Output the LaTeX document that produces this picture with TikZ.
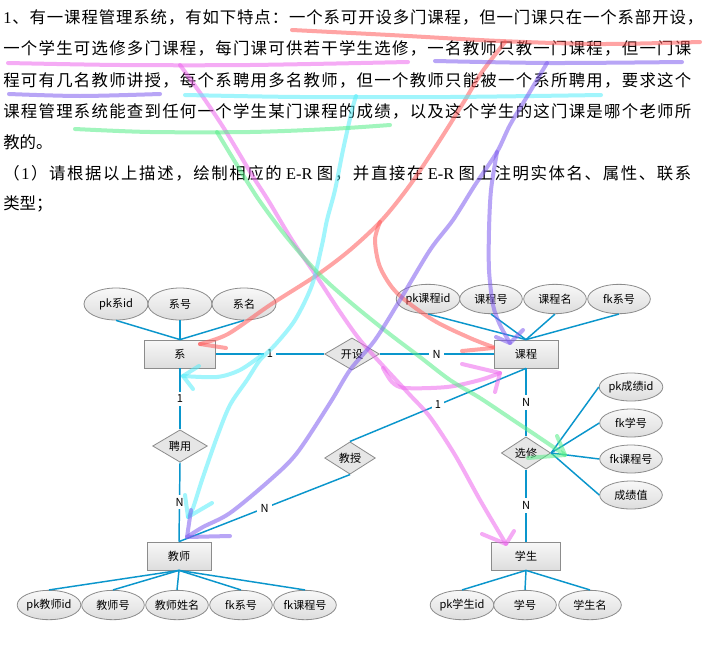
\documentclass[tikz,border=0pt]{standalone}
\usepackage{fontspec}
\setmainfont{Noto Sans CJK SC}
\newfontfamily\serifL{Liberation Serif}
\usetikzlibrary{shapes.geometric}
\definecolor{bord}{HTML}{8C8C8C}
\definecolor{lnk}{HTML}{0A96CC}
\definecolor{shtop}{HTML}{F8F8F8}
\definecolor{shbot}{HTML}{DDDDDD}
\definecolor{relfill}{HTML}{E6E6E6}
\definecolor{hred}{HTML}{FF5A5A}
\definecolor{hmag}{HTML}{EE66EE}
\definecolor{hcyan}{HTML}{55EEFA}
\definecolor{hgreen}{HTML}{55EE88}
\definecolor{hpur}{HTML}{7F5CF0}
\def\spreadA#1{#1\spreadB}
\def\spreadB#1{\ifx\relax#1\else\hfil#1\expandafter\spreadB\fi}
\newcommand\jline[2]{\makebox[#1][s]{\spreadA#2\relax}}
\tikzset{
 ent/.style={rectangle, draw=bord, line width=0.6pt, top color=shtop, bottom color=shbot, minimum height=21pt, inner sep=0pt, font=\fontsize{8.3}{10}\selectfont},
 attr/.style={ellipse, draw=bord, line width=0.6pt, top color=shtop, bottom color=shbot, minimum width=47pt, minimum height=22pt, inner sep=0pt, font=\fontsize{8.3}{10}\selectfont},
 rel/.style={diamond, draw=bord, line width=0.6pt, fill=relfill, inner sep=0pt, font=\fontsize{8.3}{10}\selectfont},
 lk/.style={draw=lnk, line width=1.1pt},
 lab/.style={fill=white, inner sep=2.5pt, font=\fontsize{8.3}{10}\selectfont},
 hl/.style={line width=3pt, line cap=round, line join=round, opacity=0.55},
 para/.style={anchor=base west, inner sep=0pt, font=\fontsize{12.3}{15}\selectfont},
}
\begin{document}
\begin{tikzpicture}[x=0.75pt, y=-0.75pt]
\fill[white] (0,0) rectangle (705,653);
\useasboundingbox (0,0) rectangle (705,653);

% ---------- paragraph ----------
\node[para] (t1) at (3,23) {\jline{525pt}{{{\serifL 1}}、有一课程管理系统，有如下特点：一个系可开设多门课程，但一门课只在一个系部开设，}};
\node[para] (t2) at (3,54) {\jline{516pt}{一个学生可选修多门课程，每门课可供若干学生选修，一名教师只教一门课程，但一门课}};
\node[para] (t3) at (3,86) {\jline{516pt}{程可有几名教师讲授，每个系聘用多名教师，但一个教师只能被一个系所聘用，要求这个}};
\node[para] (t4) at (3,117) {\jline{516pt}{课程管理系统能查到任何一个学生某门课程的成绩，以及这个学生的这门课是哪个老师所}};
\node[para] (t5) at (3,148) {教的。};
\node[para] (t6) at (3,179) {\jline{516pt}{（{{\serifL 1}}）请根据以上描述，绘制相应的{{\serifL \,E-R\,}}图，并直接在{{\serifL \,E-R\,}}图上注明实体名、属性、联系}};
\node[para] (t7) at (3,209) {类型；};

% ---------- entities ----------
\node[ent, minimum width=53pt] (xi) at (180,354) {系};
\node[ent, minimum width=48pt] (kc) at (526,354) {课程};
\node[ent, minimum width=48pt] (js) at (179,556) {教师};
\node[ent, minimum width=52pt] (xs) at (526,556) {学生};

% ---------- relationships ----------
\node[rel, minimum width=41pt, minimum height=24pt] (ks) at (352,354) {开设};
\node[rel, minimum width=41pt, minimum height=24pt] (py) at (180,446) {聘用};
\node[rel, minimum width=38pt, minimum height=23pt] (jsh) at (350,458) {教授};
\node[rel, minimum width=37pt, minimum height=22.5pt] (xx) at (526,453) {选修};

% ---------- attributes ----------
\node[attr, minimum width=48pt, minimum height=24pt] (a1) at (116,304) {pk系id};
\node[attr, minimum width=48pt, minimum height=24pt] (a2) at (180,304) {系号};
\node[attr, minimum width=48pt, minimum height=24pt] (a3) at (244,304) {系名};

\node[attr] (b1) at (428,299) {pk课程id};
\node[attr] (b2) at (491,299) {课程号};
\node[attr] (b3) at (555,299) {课程名};
\node[attr] (b4) at (619,299) {fk系号};

\node[attr, minimum height=21pt] (c1) at (631,387) {pk成绩id};
\node[attr, minimum height=21pt] (c2) at (631,423) {fk学号};
\node[attr, minimum height=21pt] (c3) at (631,459) {fk课程号};
\node[attr, minimum height=21pt] (c4) at (631,495) {成绩值};

\node[attr] (d1) at (49,605) {pk教师id};
\node[attr] (d2) at (113,605) {教师号};
\node[attr] (d3) at (177,605) {教师姓名};
\node[attr] (d4) at (241,605) {fk系号};
\node[attr] (d5) at (305,605) {fk课程号};

\node[attr] (e1) at (462,605) {pk学生id};
\node[attr] (e2) at (525,605) {学号};
\node[attr] (e3) at (590,605) {学生名};

% ---------- connectors ----------
\foreach \a in {a1,a2,a3} \draw[lk] (\a.south) -- (xi.north);
\foreach \a in {b1,b2,b3,b4} \draw[lk] (\a.south) -- (kc.north);
\foreach \a in {c1,c2,c3,c4} \draw[lk] (xx.east) -- (\a.west);
\foreach \a in {d1,d2,d3,d4,d5} \draw[lk] (js.south) -- (\a.north);
\foreach \a in {e1,e2,e3} \draw[lk] (xs.south) -- (\a.north);

\draw[lk] (xi.east) -- node[lab]{1} (ks.west);
\draw[lk] (ks.east) -- node[lab]{N} (kc.west);
\draw[lk] (xi.south) -- node[lab]{1} (py.north);
\draw[lk] (py.south) -- node[lab]{N} (js.north);
\draw[lk] (kc.south) -- node[lab]{N} (xx.north);
\draw[lk] (xx.south) -- node[lab]{N} (xs.north);
\draw[lk] (jsh.north) -- node[lab]{1} (kc.south);
\draw[lk] (jsh.south) -- node[lab]{N} (js.north);

% ---------- hand-drawn strokes ----------
% red
\draw[hl, hred] plot[smooth, tension=0.5] coordinates {(292,30) (390,35) (500,41) (600,44) (700,42)};
\draw[hl, hred] plot[smooth, tension=0.5] coordinates {(505,42) (482,72) (465,100) (440,140) (410,185) (382,220) (350,250) (317,275) (270,305) (228,334) (200,344)};
\draw[hl, hred] (200,344) -- (226,348);
\draw[hl, hred] plot[smooth, tension=0.5] coordinates {(380,222) (375,240) (380,267) (397,293) (433,320) (470,338) (493,347)};
\draw[hl, hred] (462,351) -- (493,348);
% magenta
\draw[hl, hmag] plot[smooth, tension=0.5] coordinates {(8,63) (120,65) (250,65) (408,62)};
\draw[hl, hmag] plot[smooth, tension=0.5] coordinates {(180,65) (203,97) (225,130) (252,175) (268,200) (292,240) (317,277) (340,312) (360,340) (385,368) (410,395) (430,417) (455,455) (480,500) (506,544)};
\draw[hl, hmag] (482,534) -- (506,544) -- (514,531);
\draw[hl, hmag] plot[smooth, tension=0.5] coordinates {(383,368) (392,382) (405,388) (447,387) (480,380) (500,373)};
\draw[hl, hmag] (462,364) -- (500,373) -- (495,392);
% cyan
\draw[hl, hcyan] plot[smooth, tension=0.5] coordinates {(185,95) (300,97) (450,97) (601,95)};
\draw[hl, hcyan] plot[smooth, tension=0.5] coordinates {(356,96) (352,110) (343,150) (335,190) (327,220) (322,245) (312,285) (295,320) (275,345) (260,360) (247,380) (230,405) (217,437) (202,480) (193,508) (188,517)};
\draw[hl, hcyan] plot[smooth, tension=0.5] coordinates {(262,355) (240,370) (217,377) (183,376)};
\draw[hl, hcyan] (199,366) -- (183,376) -- (193,389);
\draw[hl, hcyan] (185,495) -- (188,517) -- (212,503);
% green
\draw[hl, hgreen] plot[smooth, tension=0.5] coordinates {(75,129) (150,132) (250,132) (330,129) (390,125)};
\draw[hl, hgreen] plot[smooth, tension=0.5] coordinates {(217,132) (240,170) (259,200) (285,235) (317,272) (350,302) (387,332) (420,357) (450,380) (480,398) (513,420) (540,438) (565,455)};
\draw[hl, hgreen] (557,436) -- (565,455) -- (528,458);
% purple
\draw[hl, hpur] plot[smooth, tension=0.5] coordinates {(435,61) (550,63) (682,62)};
\draw[hl, hpur] plot[smooth, tension=0.5] coordinates {(9,94) (80,96) (160,94)};
\draw[hl, hpur] plot[smooth, tension=0.5] coordinates {(547,63) (528,95) (510,125) (497,152) (475,185) (453,220) (430,250) (400,300) (375,340) (350,370) (330,403) (297,453) (270,480) (230,513) (203,527) (187,537)};
\draw[hl, hpur] (191,510) -- (187,537) -- (230,536);
\draw[hl, hpur] plot[smooth, tension=0.5] coordinates {(497,152) (491,190) (489,230) (489,270) (493,305) (500,325) (510,343)};
\draw[hl, hpur] (496,337) -- (510,343) -- (523,330);
\end{tikzpicture}
\end{document}
